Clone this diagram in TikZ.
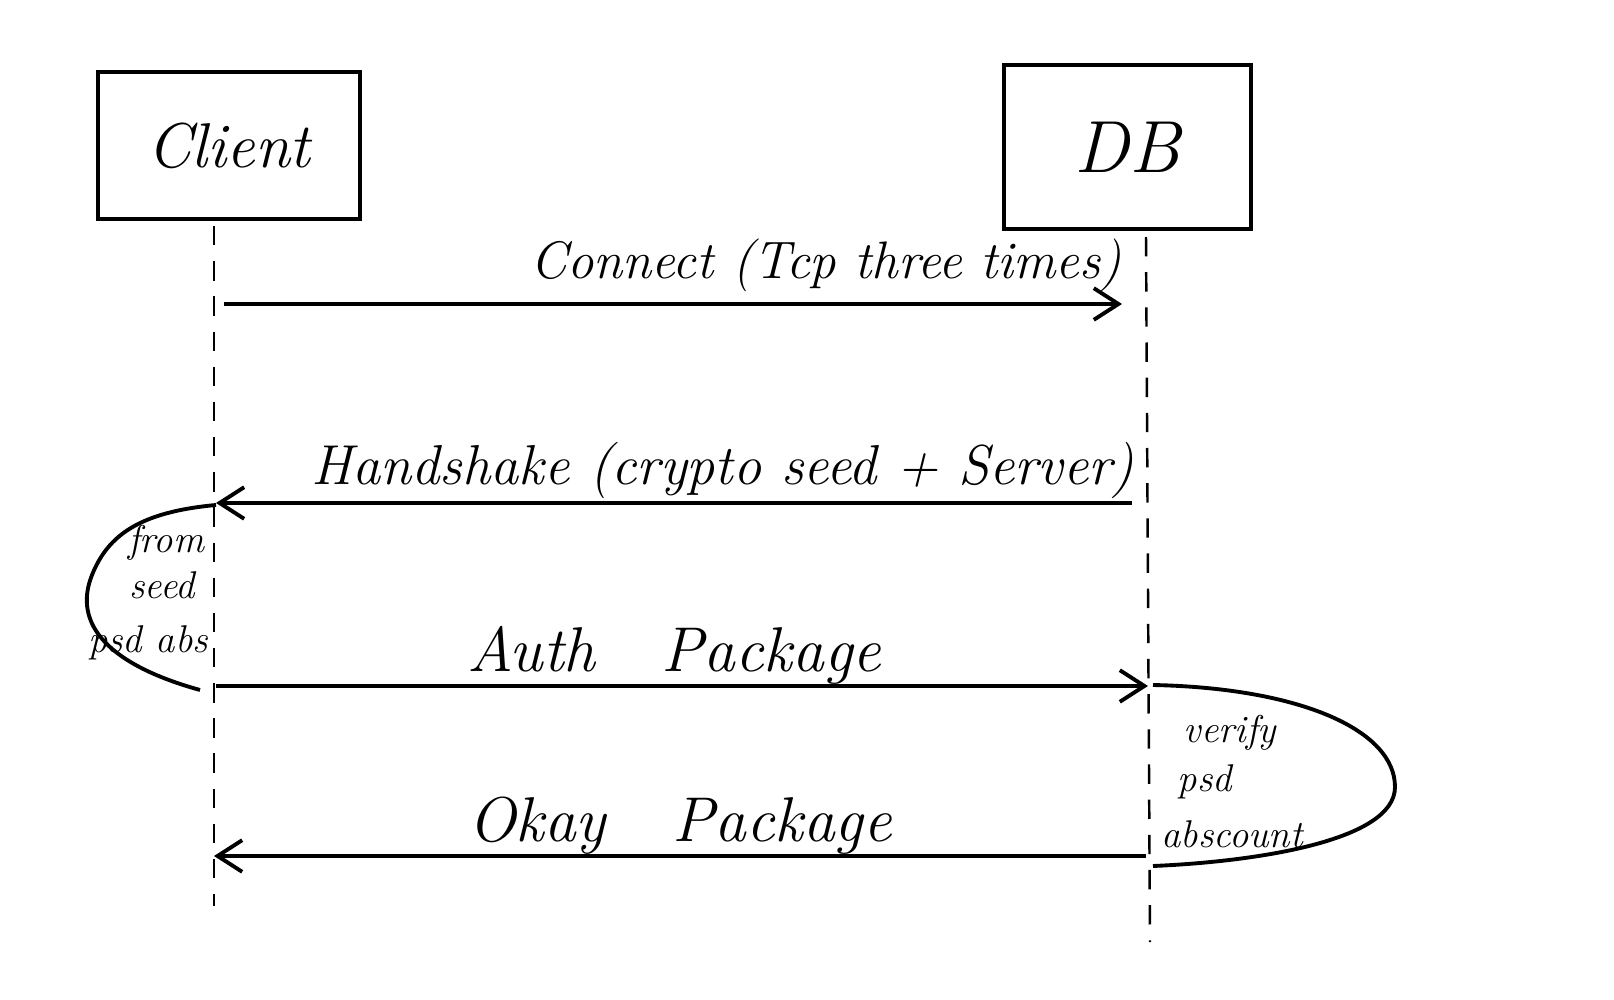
\documentclass[tikz,border=0pt]{standalone}
\usetikzlibrary{arrows.meta}
\begin{document}
\begin{tikzpicture}[x=0.01cm,y=-0.01cm,
  actor/.style={draw,line width=1.3pt,inner sep=0pt},
  life/.style={line width=0.7pt,dash pattern=on 5.5pt off 4.5pt},
  msg/.style={line width=1.1pt,-{Straight Barb[length=7pt,width=9pt,line width=1.1pt]}},
  loopline/.style={line width=1.1pt},
  lbl/.style={font=\fontsize{15}{17}\selectfont\itshape,inner sep=0pt},
  big/.style={font=\fontsize{18}{20}\selectfont\itshape,inner sep=0pt},
  note/.style={font=\fontsize{11}{12}\selectfont\itshape,inner sep=0pt}]
\useasboundingbox (0,0) rectangle (1614,1000);
% actors
\node[actor,minimum width=2.62cm,minimum height=1.47cm,font=\fontsize{18}{20}\selectfont\itshape] (client) at (229,145.5) {Client};
\node[actor,minimum width=2.47cm,minimum height=1.64cm,font=\fontsize{21}{23}\selectfont\itshape] (db) at (1127.5,147) {DB};
% lifelines
\coordinate (cTop) at (214,226);
\coordinate (cBot) at (214,906);
\coordinate (dTop) at (1146,237);
\coordinate (dBot) at (1150,942);
\draw[life] (cTop) -- (cBot);
\draw[life] (dTop) -- (dBot);
% message end points
\coordinate (m1s) at (224,304); \coordinate (m1e) at (1122,304);
\coordinate (m2s) at (1132,503); \coordinate (m2e) at (216,503);
\coordinate (m3s) at (216,686); \coordinate (m3e) at (1148,686);
\coordinate (m4s) at (1146,856); \coordinate (m4e) at (214,856);
\draw[msg] (m1s) -- (m1e);
\draw[msg] (m2s) -- (m2e);
\draw[msg] (m3s) -- (m3e);
\draw[msg] (m4s) -- (m4e);
% labels
\node[lbl] (t1) at (826,265) {Connect (Tcp three times)};
\node[lbl,font=\fontsize{16}{18}\selectfont\itshape] (t2) at (723,470) {Handshake (crypto seed + Server)};
\node[big] (t3) at (674,655) {Auth \ \ Package};
\node[big] (t4) at (680,826) {Okay \ \ Package};
% left self note
\coordinate (l1) at (216,505);
\coordinate (l2) at (200,690);
\draw[loopline] (l1) .. controls (140,512) and (108,535) .. (92,575)
  .. controls (72,625) and (110,665) .. (l2);
\node[note] (n1) at (166,543) {from};
\node[note] (n2) at (162,585) {seed};
\node[note] (n3) at (148,643) {psd abs};
% right self note
\coordinate (r1) at (1153,685);
\coordinate (r2) at (1153,866);
\draw[loopline] (r1) .. controls (1300,688) and (1395,730) .. (1395,787)
  .. controls (1395,842) and (1250,862) .. (r2);
\node[note] (n4) at (1230,733) {verify};
\node[note] (n5) at (1205,782) {psd};
\node[note] (n6) at (1232,834) {abscount};
\end{tikzpicture}
\end{document}
